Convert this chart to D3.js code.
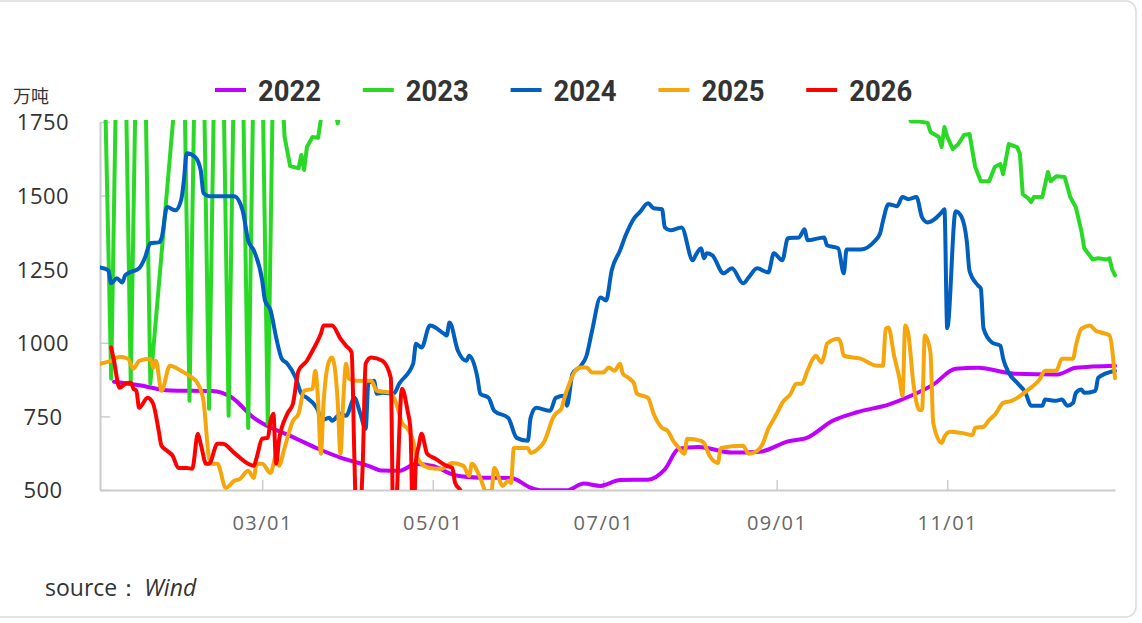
<!DOCTYPE html>
<html>
<head>
<meta charset="utf-8">
<script src="https://cdn.jsdelivr.net/npm/d3@7/dist/d3.min.js"></script>
<style>
  html, body { margin: 0; padding: 0; background: #fff; }
  svg { display: block; }
</style>
</head>
<body>
<div id="chart"></div>
<script>
// [day of year (0 = 01/01), value in 万吨]
const s2022 = [[6,868],[15,856],[26,838],[41,836],[48,815],[56,745],[62,712],[69,684],[79,640],[87,610],[97,582],[102,566],[108,565],[114,588],[120,582],[128,550],[137,542],[148,541],[155,508],[159,499],[168,499],[174,522],[180,514],[187,534],[197,535],[203,570],[208,640],[215,646],[227,627],[237,630],[247,665],[254,678],[263,735],[272,765],[283,790],[291,820],[299,858],[307,912],[315,915],[328,895],[343,892],[350,915],[364,922]];

const s2023 = [[1,2650],[5,878],[8,2600],[9,2600],[12,864],[15,2600],[16,2600],[19,861],[29,1960],[30,2600],[33,803],[36,2600],[37,2600],[40,776],[43,2600],[44,2600],[47,752],[50,2600],[51,2600],[54,711],[57,2600],[58,2600],[61,725],[64,2600],[65,2100],[67,1700],[69,1600],[72,1593],[73,1638],[74,1587],[75,1665],[77,1699],[79,1696],[80,1760],[82,1950],[85,1800],[86,1745],[87,1800],[90,2000],[120,2150],[150,2300],[180,2400],[210,2300],[240,2200],[270,2050],[288,1850],[291,1752],[294,1752],[297,1747],[298,1716],[301,1699],[302,1665],[303,1733],[304,1700],[306,1658],[308,1675],[310,1706],[312,1709],[314,1597],[316,1549],[319,1549],[321,1597],[323,1607],[324,1573],[326,1675],[329,1665],[330,1641],[331,1505],[333,1490],[334,1478],[335,1495],[338,1495],[340,1580],[341,1549],[343,1566],[346,1563],[348,1495],[350,1460],[352,1379],[353,1321],[356,1283],[358,1287],[361,1283],[362,1287],[363,1249],[364,1229]];

const s2024 = [[1,1256],[4,1246],[5,1202],[7,1219],[9,1205],[10,1229],[11,1236],[15,1253],[17,1287],[19,1338],[22,1341],[23,1355],[25,1461],[28,1450],[30,1484],[31,1552],[32,1644],[35,1631],[37,1587],[38,1508],[40,1498],[49,1498],[52,1450],[54,1348],[56,1314],[59,1212],[60,1144],[62,1110],[64,1018],[66,946],[68,929],[71,881],[73,827],[75,813],[79,769],[80,735],[83,745],[84,735],[87,759],[89,752],[92,813],[94,762],[96,708],[97,864],[99,871],[100,827],[102,830],[106,827],[108,861],[113,929],[114,997],[116,984],[119,1059],[124,1031],[125,1025],[126,1069],[129,973],[132,939],[133,956],[136,881],[137,827],[140,813],[142,769],[147,745],[150,677],[154,667],[155,745],[157,779],[162,769],[164,813],[167,820],[168,786],[170,895],[173,922],[175,956],[177,1042],[180,1154],[182,1144],[184,1246],[187,1314],[189,1365],[192,1423],[194,1443],[197,1474],[199,1457],[202,1454],[203,1392],[205,1382],[209,1392],[213,1280],[214,1297],[216,1321],[217,1287],[218,1304],[220,1297],[224,1236],[227,1253],[231,1202],[233,1222],[236,1253],[240,1239],[242,1304],[245,1280],[247,1355],[251,1358],[253,1386],[254,1348],[260,1358],[261,1331],[265,1321],[267,1236],[268,1317],[273,1317],[278,1345],[280,1372],[281,1413],[283,1471],[286,1464],[288,1495],[290,1488],[293,1495],[295,1426],[297,1409],[302,1443],[303,1454],[304,1050],[307,1447],[309,1430],[311,1345],[312,1243],[315,1195],[316,1185],[317,1048],[320,1001],[323,990],[324,946],[326,898],[329,864],[332,830],[334,786],[338,786],[339,807],[343,803],[345,807],[347,786],[349,796],[350,830],[352,841],[353,830],[357,837],[358,881],[364,905]];

const s2025 = [[1,929],[5,939],[8,953],[11,946],[13,912],[15,939],[19,946],[20,916],[21,939],[23,837],[26,922],[30,905],[33,888],[36,861],[38,803],[40,609],[41,589],[43,589],[46,507],[49,531],[51,537],[54,565],[56,541],[57,589],[59,589],[62,558],[64,616],[65,582],[67,643],[70,735],[72,759],[74,837],[77,844],[78,905],[79,803],[80,623],[81,803],[83,939],[84,950],[86,803],[87,623],[88,803],[89,929],[90,878],[93,871],[98,871],[100,837],[105,830],[107,793],[109,728],[111,708],[113,667],[114,623],[116,589],[119,575],[123,572],[127,592],[131,582],[133,548],[134,589],[137,541],[139,497],[141,497],[142,575],[145,514],[147,531],[148,524],[149,643],[154,643],[155,626],[158,643],[160,667],[161,691],[163,745],[164,759],[166,776],[167,810],[169,864],[171,905],[173,916],[175,916],[177,899],[181,899],[183,916],[185,905],[187,929],[188,895],[190,881],[192,861],[193,827],[197,813],[199,759],[202,711],[204,701],[206,667],[208,643],[210,623],[211,674],[216,667],[217,660],[219,616],[222,592],[223,643],[231,650],[233,623],[236,633],[238,657],[240,708],[241,725],[243,759],[245,796],[248,827],[250,861],[252,861],[254,905],[256,946],[257,956],[259,933],[260,956],[261,997],[265,1014],[266,997],[267,956],[273,946],[279,922],[281,922],[282,1048],[283,1052],[285,956],[287,875],[288,820],[289,1059],[290,1035],[292,854],[294,772],[295,772],[296,1025],[298,967],[299,728],[302,660],[303,681],[305,698],[309,694],[313,687],[314,711],[317,715],[319,738],[321,755],[324,796],[327,803],[329,813],[333,841],[337,875],[339,905],[343,905],[345,946],[349,946],[350,990],[352,1048],[355,1059],[357,1042],[359,1035],[362,1025],[364,880]];

const s2026 = [[5,984],[6,939],[8,847],[10,861],[12,864],[13,844],[14,837],[15,779],[18,813],[20,793],[22,701],[23,650],[25,633],[27,616],[29,575],[32,575],[34,572],[36,691],[37,657],[39,589],[40,589],[43,657],[45,657],[49,626],[54,589],[56,582],[57,609],[59,674],[61,677],[62,735],[63,759],[64,589],[65,667],[68,759],[70,793],[72,905],[75,939],[77,973],[80,1031],[81,1059],[84,1059],[87,1014],[89,990],[91,967],[92,600],[93,300],[95,600],[96,929],[98,950],[102,939],[105,881],[106,300],[107,450],[109,844],[111,769],[112,711],[113,350],[114,600],[115,650],[116,691],[118,623],[121,606],[125,582],[127,575],[128,524],[130,497],[131,470]];

const years = ["2022", "2023", "2024", "2025", "2026"];
const seriesData = [s2022, s2023, s2024, s2025, s2026];
const colors = ["#bf00ff", "#2ad925", "#005fbf", "#f5a60c", "#ff0000"];
const yTicks = [500, 750, 1000, 1250, 1500, 1750];
const xTickLabels = ["03/01", "05/01", "07/01", "09/01", "11/01"];

const width = 1142, height = 623;
const plot = { left: 100, right: 1115, top: 122, bottom: 490 };
const baseYear = 2023;
const toDate = d => new Date(baseYear, 0, 1 + d);

const svg = d3.select('#chart')
    .append('svg')
    .attr('width', width)
    .attr('height', height);

// card frame
svg.append('rect')
    .attr('x', -10).attr('y', 1)
    .attr('width', 1146).attr('height', 616)
    .attr('rx', 10)
    .attr('fill', '#fff')
    .attr('stroke', '#dcdcdc')
    .attr('stroke-width', 1.5);

const x = d3.scaleTime()
    .domain([toDate(1), toDate(364)])
    .range([plot.left, plot.right]);

const y = d3.scaleLinear()
    .domain([500, 1750])
    .range([plot.bottom, plot.top]);

const parseTick = d3.timeParse('%Y/%m/%d');
const xTicks = xTickLabels.map(t => parseTick(baseYear + '/' + t));

// x axis
const xAxis = svg.append('g')
    .attr('transform', `translate(0,${plot.bottom})`)
    .call(d3.axisBottom(x)
        .tickValues(xTicks)
        .tickFormat(d3.timeFormat('%m/%d'))
        .tickSize(-10)
        .tickSizeOuter(0));
xAxis.select('.domain').attr('stroke', '#cccccc').attr('stroke-width', 2);
xAxis.selectAll('.tick line').attr('stroke', '#cccccc').attr('stroke-width', 1.5);
xAxis.selectAll('.tick text')
    .attr('y', 40)
    .attr('dy', 0)
    .attr('fill', '#666')
    .style('font-family', '"Open Sans", sans-serif')
    .style('font-size', '20px')
    .style('letter-spacing', '1.5px');

// y axis
const yAxis = svg.append('g')
    .attr('transform', `translate(${plot.left},0)`)
    .call(d3.axisLeft(y)
        .tickValues(yTicks)
        .tickFormat(d3.format('d'))
        .tickSize(-10)
        .tickSizeOuter(0));
yAxis.select('.domain').attr('stroke', '#cccccc').attr('stroke-width', 2);
yAxis.selectAll('.tick line').attr('stroke', '#cccccc').attr('stroke-width', 1.5);
yAxis.selectAll('.tick text')
    .attr('x', -57)
    .attr('dy', '0.36em')
    .attr('text-anchor', 'middle')
    .attr('fill', '#333')
    .style('font-family', '"Open Sans", sans-serif')
    .style('font-size', '22px')
    .style('letter-spacing', '0.5px');

svg.append('text')
    .attr('x', 13).attr('y', 103)
    .attr('fill', '#333')
    .style('font-family', '"Noto Sans CJK SC", sans-serif')
    .style('font-size', '18px')
    .text('万吨');

// clip the lines to the plot area
svg.append('clipPath')
    .attr('id', 'plot-clip')
    .append('rect')
    .attr('x', plot.left)
    .attr('y', plot.top - 2)
    .attr('width', plot.right - plot.left + 2)
    .attr('height', plot.bottom - plot.top + 2);

const lineSmooth = d3.line()
    .x(d => x(toDate(d[0])))
    .y(d => y(d[1]))
    .curve(d3.curveMonotoneX);

const lineStraight = d3.line()
    .x(d => x(toDate(d[0])))
    .y(d => y(d[1]));

const lines = svg.append('g').attr('clip-path', 'url(#plot-clip)');

seriesData.forEach((data, i) => {
    lines.append('path')
        .datum(data)
        .attr('fill', 'none')
        .attr('stroke', colors[i])
        .attr('stroke-width', 4)
        .attr('stroke-linejoin', 'round')
        .attr('stroke-linecap', 'round')
        .attr('d', years[i] === '2023' ? lineStraight : lineSmooth);
});

// legend
const legend = svg.append('g');
years.forEach((yr, i) => {
    const lx = 215 + i * 147.8;
    legend.append('line')
        .attr('x1', lx).attr('x2', lx + 31)
        .attr('y1', 90).attr('y2', 90)
        .attr('stroke', colors[i])
        .attr('stroke-width', 4);
    legend.append('text')
        .attr('x', lx + 43).attr('y', 101)
        .attr('fill', '#333')
        .attr('textLength', 63)
        .attr('lengthAdjust', 'spacingAndGlyphs')
        .style('font-family', 'Roboto, sans-serif')
        .style('font-weight', 'bold')
        .style('font-size', '30px')
        .text(yr);
});

// source
const src = svg.append('text')
    .attr('x', 45).attr('y', 596)
    .attr('fill', '#333')
    .style('font-family', '"Open Sans", sans-serif')
    .style('font-size', '23px');
src.append('tspan').text('source：');
src.append('tspan').attr('dx', 4).style('font-style', 'italic').text('Wind');
</script>
</body>
</html>
